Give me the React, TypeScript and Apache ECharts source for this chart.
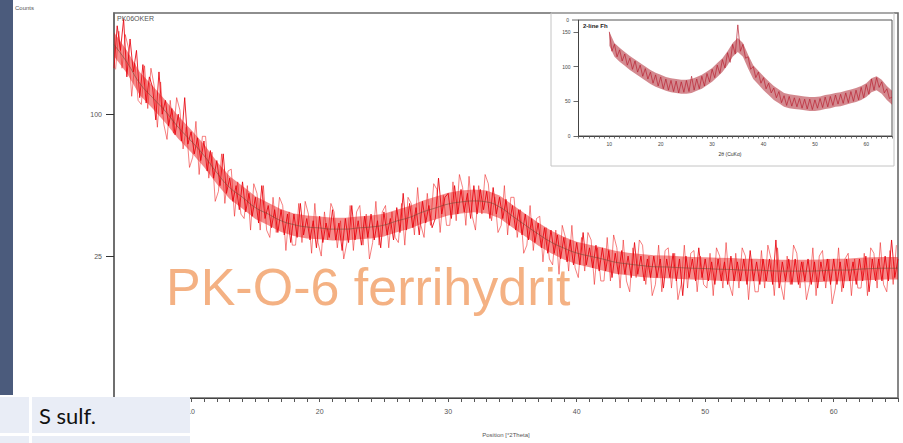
import React, { useEffect, useRef } from "react";
import * as echarts from "echarts";

// ---- Main XRD pattern (counts, sqrt scale), scan 4° .. 65° 2θ ----
// readings at 4.00, 4.25, 4.50, ...
const MAIN_START = 4;
const MAIN_STEP = 0.25;
const MAIN_COUNTS = [
  135, 172, 150, 178,
  128, 160, 132, 150,
  112, 138, 108, 128,
  120, 96, 132, 100,
  110, 92, 104, 86,
  100, 82, 112, 80,
  88, 74, 84, 70,
  82, 64, 76, 60,
  70, 56, 74, 52,
  60, 48, 56, 44,
  58, 43, 52, 41,
  50, 38, 56, 40,
  46, 36, 44, 34,
  44, 33, 42, 30,
  42, 32, 47, 33,
  40, 31, 39, 28,
  41, 30, 38, 32,
  44, 31, 38, 27,
  40, 30, 46, 31,
  39, 29, 41, 32,
  42, 31, 39, 28,
  43, 33, 40, 31,
  45, 34, 52, 35,
  47, 36, 45, 33,
  48, 38, 46, 36,
  40, 60, 42, 50,
  52, 40, 56, 42,
  54, 43, 52, 40,
  56, 42, 54, 44,
  53, 40, 55, 42,
  50, 40, 49, 37,
  46, 35, 44, 33,
  42, 31, 40, 30,
  38, 28, 36, 26,
  35, 26, 33, 24,
  32, 23, 31, 22,
  30, 22, 34, 22,
  28, 21, 29, 20,
  28, 20, 27, 18,
  26, 19, 27, 19,
  25, 18, 30, 19,
  25, 17, 24, 18,
  25, 18, 24, 15,
  24, 18, 26, 17,
  24, 13, 25, 18,
  24, 17, 28, 18,
  24, 17, 23, 16,
  24, 17, 23, 16,
  25, 17, 23, 17,
  24, 16, 27, 17,
  23, 16, 24, 17,
  24, 16, 31, 15,
  23, 17, 24, 16,
  24, 16, 23, 17,
  24, 16, 23, 15,
  23, 17, 24, 16,
  24, 16, 23, 15,
  24, 17, 23, 16,
  24, 17, 25, 14,
  24, 17, 24, 17,
  25, 17, 31, 18,
  24,
];
// readings in between, at 4.125, 4.375, 4.625, ...
const MAIN_MID_START = 4.125;
const MAIN_MID_STEP = 0.25;
const MAIN_COUNTS_MID = [
  134, 167, 135, 164,
  152, 113, 139, 110,
  107, 137, 104, 135,
  121, 91, 124, 93,
  83, 110, 87, 112,
  103, 77, 91, 66,
  72, 95, 62, 85,
  85, 60, 75, 48,
  53, 74, 47, 64,
  65, 41, 58, 42,
  40, 56, 35, 57,
  52, 35, 56, 35,
  32, 50, 34, 50,
  46, 27, 43, 29,
  29, 47, 30, 48,
  42, 26, 47, 30,
  25, 43, 31, 47,
  43, 28, 39, 24,
  30, 46, 27, 43,
  46, 29, 42, 24,
  30, 48, 29, 43,
  46, 28, 43, 32,
  30, 47, 29, 50,
  47, 33, 55, 37,
  32, 52, 37, 57,
  54, 34, 51, 37,
  37, 58, 39, 62,
  55, 37, 61, 41,
  35, 56, 42, 62,
  57, 39, 50, 34,
  37, 56, 33, 50,
  50, 32, 44, 26,
  29, 46, 27, 40,
  41, 23, 36, 24,
  22, 35, 19, 37,
  32, 20, 37, 21,
  18, 32, 20, 34,
  31, 16, 28, 17,
  17, 32, 17, 33,
  28, 15, 31, 17,
  14, 28, 18, 31,
  29, 16, 25, 13,
  16, 29, 14, 27,
  28, 15, 26, 12,
  16, 29, 15, 26,
  27, 14, 25, 16,
  15, 26, 13, 28,
  25, 15, 30, 16,
  13, 26, 15, 28,
  25, 12, 24, 14,
  14, 27, 15, 29,
  24, 13, 28, 16,
  12, 25, 16, 29,
  26, 15, 23, 12,
  16, 28, 13, 25,
  27, 15, 24, 11,
  15, 28, 14, 24,
  26, 13, 24, 15,
  15, 26, 13, 28,
  26, 15, 30, 16,
  14, 27, 16, 29,
];

// 1° grid: fitted background line and the dense core of the noise band
const BAND_START = 4;
const BAND_STEP = 1;
const MAIN_BACKGROUND = [
  155, 140, 123, 112, 102, 91, 82, 73, 63, 55, 50, 45, 42, 39, 37.3, 36.3,
  35.9, 35.4, 35.4, 35.9, 36.3, 37.1, 38.9, 40.5, 42.9, 44.8, 46.7, 47.7,
  48.2, 47.7, 45.3, 41.1, 37.1, 33.4, 30.2, 27.9, 26.1, 25, 24, 22.9, 22.3,
  21.8, 21.4, 21.3, 21.1, 20.9, 20.8, 20.6, 20.5, 20.3, 20.3, 20.1, 20, 20,
  20, 20.1, 20.3, 20.3, 20.6, 20.8, 20.9, 20.9,
];
const MAIN_BAND_LOW = [
  145, 131, 114, 104, 94, 83.5, 74.9, 66.3, 56.8, 49.2, 44.5, 39.8, 37, 34.2,
  32.6, 31.6, 31.3, 30.8, 30.8, 31.3, 31.6, 32.4, 34.1, 35.6, 37.8, 39.6, 41.4,
  42.3, 42.8, 42.3, 40.1, 36.1, 32.4, 28.9, 26, 23.8, 22.2, 21.2, 20.2, 19.2,
  18.7, 18.2, 17.9, 17.8, 17.6, 17.4, 17.3, 17.1, 17, 16.9, 16.9, 16.7, 16.6,
  16.6, 16.6, 16.7, 16.9, 16.9, 17.1, 17.3, 17.4, 17.4,
];
const MAIN_BAND_HIGH = [
  166, 150, 132, 121, 110, 98.8, 89.4, 80, 69.5, 61.1, 55.8, 50.5, 47.3, 44.2,
  42.3, 41.3, 40.9, 40.3, 40.3, 40.9, 41.3, 42.1, 44, 45.8, 48.3, 50.3, 52.3,
  53.4, 53.9, 53.4, 50.9, 46.4, 42.1, 38.2, 34.8, 32.3, 30.3, 29.2, 28.1, 26.9,
  26.2, 25.7, 25.3, 25.2, 24.9, 24.7, 24.6, 24.4, 24.3, 24.1, 24.1, 23.8, 23.7,
  23.7, 23.7, 23.8, 24.1, 24.1, 24.4, 24.6, 24.7, 24.7,
];

const MAIN_X_MIN = 4;
const MAIN_X_MAX = 65;
const MAIN_Y_MAX = 184;
const MAIN_Y_TICKS = [25, 100];
const MAIN_X_LABELS = [10, 20, 30, 40, 50, 60];

// ---- Inset: 2-line ferrihydrite reference (linear counts) ----
const INSET_START = 10;
const INSET_STEP = 0.5;
const INSET_COUNTS = [
  150, 122, 132, 114, 124, 108, 118, 102, 112, 96,
  108, 92, 102, 86, 97, 82, 92, 76, 88, 72,
  85, 68, 82, 66, 80, 64, 79, 62, 78, 63,
  80, 64, 86, 66, 82, 68, 86, 72, 90, 78,
  96, 84, 102, 90, 110, 98, 120, 106, 132, 118,
  160, 122, 132, 112, 114, 96, 100, 84, 92, 76,
  84, 68, 76, 62, 69, 55, 64, 48, 58, 44,
  57, 43, 55, 42, 54, 40, 53, 39, 53, 38,
  52, 40, 54, 41, 56, 42, 57, 44, 59, 46,
  60, 47, 62, 48, 64, 50, 66, 52, 70, 55,
  74, 60, 82, 66, 84, 70, 78, 62, 68, 54,
  56,
];
const INSET_BAND_START = 10;
const INSET_BAND_STEP = 1;
const INSET_BAND_LOW = [
  130, 114, 107, 101, 95, 90, 85, 80, 75, 71, 68, 65, 63, 62, 61, 61, 62, 65,
  68, 73, 78, 85, 92, 102, 114, 121, 114, 97, 82, 74, 66, 59, 52, 47, 42, 40,
  39, 38, 37, 36, 36, 37, 39, 40, 42, 43, 45, 47, 49, 52, 56, 63, 66, 61, 52, 45,
];
const INSET_BAND_HIGH = [
  150, 134, 127, 121, 115, 110, 105, 100, 95, 91, 88, 85, 83, 82, 81, 81, 82, 85,
  88, 93, 98, 105, 112, 122, 134, 141, 134, 117, 102, 94, 86, 79, 72, 67, 62, 60,
  59, 58, 57, 56, 56, 57, 59, 60, 62, 63, 65, 67, 69, 72, 76, 83, 86, 81, 72, 65,
];
const INSET_X_MIN = 4;
const INSET_X_MAX = 65;
const INSET_Y_MAX = 167;
const INSET_Y_TICKS = [0, 50, 100, 150];

const AXIS_FONT = "Liberation Sans, Arial, sans-serif";

// band drawn as one polygon through the axes' own coordinate mapping
function bandSeries(
  start: number,
  step: number,
  low: number[],
  high: number[],
  f: (v: number) => number,
  axis: number,
  color: string,
  opacity: number
) {
  return {
    type: "custom",
    coordinateSystem: "cartesian2d",
    xAxisIndex: axis,
    yAxisIndex: axis,
    silent: true,
    z: 2,
    data: [[start, f(low[0])]],
    renderItem: (_params: any, api: any) => {
      const pts: number[][] = [];
      low.forEach((v, i) => pts.push(api.coord([start + i * step, f(v)])));
      for (let i = high.length - 1; i >= 0; i--) pts.push(api.coord([start + i * step, f(high[i])]));
      return {
        type: "polygon",
        shape: { points: pts },
        style: { fill: color, opacity },
      };
    },
  };
}

function lineSeries(data: number[][], axis: number, color: string, width: number, opacity: number, z: number) {
  return {
    type: "line",
    xAxisIndex: axis,
    yAxisIndex: axis,
    data,
    showSymbol: false,
    symbol: "none",
    silent: true,
    lineStyle: { color, width, opacity },
    z,
  };
}

export default function App() {
  const ref = useRef<HTMLDivElement>(null);

  useEffect(() => {
    if (!ref.current) return;
    const chart = echarts.init(ref.current, undefined, { renderer: "svg" });

    const sq = (v: number) => Math.sqrt(v);
    const lin = (v: number) => v;
    const mainPts = MAIN_COUNTS.map((v, i) => [MAIN_START + i * MAIN_STEP, sq(v)]);
    const midPts = MAIN_COUNTS_MID.map((v, i) => [MAIN_MID_START + i * MAIN_MID_STEP, sq(v)]);
    const bgPts = MAIN_BACKGROUND.map((v, i) => [BAND_START + i * BAND_STEP, sq(v)]);
    const insetPts = INSET_COUNTS.map((v, i) => [INSET_START + i * INSET_STEP, v]);

    const option: any = {
      animation: false,
      backgroundColor: "#ffffff",
      grid: [
        {
          left: 114,
          top: 13,
          width: 784,
          height: 385,
          show: true,
          borderColor: "#6a6a6a",
          borderWidth: 1.6,
          backgroundColor: "transparent",
        },
        {
          left: 578.5,
          top: 20,
          width: 313.5,
          height: 116,
          show: true,
          borderColor: "#555555",
          borderWidth: 1,
          backgroundColor: "transparent",
        },
      ],
      xAxis: [
        {
          gridIndex: 0,
          type: "value",
          min: MAIN_X_MIN,
          max: MAIN_X_MAX,
          interval: 1,
          splitLine: { show: false },
          axisLine: { show: true, lineStyle: { color: "#444", width: 1.2 } },
          axisTick: { show: true, length: 4, lineStyle: { color: "#555", width: 1 } },
          axisLabel: {
            color: "#555",
            fontSize: 7,
            fontFamily: AXIS_FONT,
            margin: 10,
            formatter: (v: number) => (MAIN_X_LABELS.indexOf(v) >= 0 ? String(v) : ""),
          },
          name: "Position [°2Theta]",
          nameLocation: "middle",
          nameGap: 34,
          nameTextStyle: { color: "#555", fontSize: 6, fontFamily: AXIS_FONT },
        },
        {
          gridIndex: 1,
          type: "value",
          min: INSET_X_MIN,
          max: INSET_X_MAX,
          interval: 1,
          splitLine: { show: false },
          axisLine: { show: true, lineStyle: { color: "#444", width: 1 } },
          axisTick: { show: true, length: 2.5, lineStyle: { color: "#555", width: 0.8 } },
          axisLabel: {
            color: "#444",
            fontSize: 5,
            fontFamily: AXIS_FONT,
            margin: 5,
            formatter: (v: number) => (v % 10 === 0 ? String(v) : ""),
          },
        },
      ],
      yAxis: [
        {
          gridIndex: 0,
          type: "value",
          min: 0,
          max: Math.sqrt(MAIN_Y_MAX),
          splitLine: { show: false },
          axisLine: { show: true, lineStyle: { color: "#6a6a6a", width: 1.6 } },
          axisTick: {
            show: true,
            length: 8,
            lineStyle: { color: "#333", width: 1 },
            customValues: MAIN_Y_TICKS.map((t) => Math.sqrt(t)),
          },
          axisLabel: {
            color: "#555",
            fontSize: 7,
            fontFamily: AXIS_FONT,
            margin: 12,
            customValues: MAIN_Y_TICKS.map((t) => Math.sqrt(t)),
            formatter: (v: number) => String(Math.round(v * v)),
          },
        },
        {
          gridIndex: 1,
          type: "value",
          min: 0,
          max: INSET_Y_MAX,
          splitLine: { show: false },
          axisLine: { show: true, lineStyle: { color: "#444", width: 1 } },
          axisTick: {
            show: true,
            length: 5,
            lineStyle: { color: "#444", width: 0.8 },
            customValues: INSET_Y_TICKS,
          },
          axisLabel: {
            color: "#444",
            fontSize: 5,
            fontFamily: AXIS_FONT,
            margin: 8,
            customValues: INSET_Y_TICKS,
          },
        },
      ],
      series: [
        bandSeries(BAND_START, BAND_STEP, MAIN_BAND_LOW, MAIN_BAND_HIGH, sq, 0, "#e60000", 0.45),
        lineSeries(midPts, 0, "#ee1c1c", 0.8, 0.7, 3),
        lineSeries(mainPts, 0, "#e8000c", 1, 0.85, 3),
        {
          ...lineSeries(bgPts, 0, "#6e4a34", 0.8, 0.7, 4),
          smooth: true,
        },
        bandSeries(INSET_BAND_START, INSET_BAND_STEP, INSET_BAND_LOW, INSET_BAND_HIGH, lin, 1, "#a8141f", 0.5),
        lineSeries(insetPts, 1, "#b81e2e", 0.9, 0.75, 3),
      ],
      graphic: [
        {
          type: "rect",
          shape: { x: 0, y: 0, width: 13, height: 395 },
          style: { fill: "#4b5b7c" },
          z: 50,
        },
        {
          type: "text",
          x: 15,
          y: 8,
          style: { text: "Counts", fill: "#555", font: `6px ${AXIS_FONT}`, verticalAlign: "middle" },
          z: 50,
        },
        {
          type: "text",
          x: 117,
          y: 18,
          style: { text: "PK06OKER", fill: "#555", font: `7px ${AXIS_FONT}`, verticalAlign: "middle" },
          z: 50,
        },
        {
          type: "rect",
          shape: { x: 551, y: 13, width: 343, height: 153 },
          style: { fill: "none", stroke: "#c4c4c4", lineWidth: 1 },
          z: 40,
        },
        {
          type: "text",
          x: 583,
          y: 26,
          style: { text: "2-line Fh", fill: "#222", font: `bold 6px ${AXIS_FONT}`, verticalAlign: "middle" },
          z: 50,
        },
        {
          type: "text",
          x: 569,
          y: 20,
          style: { text: "0", fill: "#444", font: `5px ${AXIS_FONT}`, verticalAlign: "middle", align: "right" },
          z: 50,
        },
        {
          type: "line",
          shape: { x1: 572, y1: 20, x2: 578, y2: 20 },
          style: { stroke: "#444", lineWidth: 0.8 },
          z: 50,
        },
        {
          type: "text",
          x: 730,
          y: 154,
          style: { text: "2θ (CuKα)", fill: "#333", font: `5px ${AXIS_FONT}`, verticalAlign: "middle", align: "center" },
          z: 50,
        },
        {
          type: "text",
          x: 166,
          y: 287,
          style: {
            text: "PK-O-6 ferrihydrit",
            fill: "#F4B183",
            font: `52px ${AXIS_FONT}`,
            verticalAlign: "middle",
          },
          z: 60,
        },
        {
          type: "group",
          z: 100,
          children: [
            { type: "rect", shape: { x: 0, y: 397, width: 29, height: 36 }, style: { fill: "#e9edf6" }, z: 100 },
            { type: "rect", shape: { x: 32, y: 397, width: 158, height: 36 }, style: { fill: "#e9edf6" }, z: 100 },
            { type: "rect", shape: { x: 0, y: 436, width: 29, height: 10 }, style: { fill: "#e9edf6" }, z: 100 },
            { type: "rect", shape: { x: 32, y: 436, width: 158, height: 10 }, style: { fill: "#e9edf6" }, z: 100 },
            {
              type: "text",
              x: 39,
              y: 415,
              style: {
                text: "S sulf.",
                fill: "#111",
                font: "22px Lato, 'Open Sans', sans-serif",
                verticalAlign: "middle",
              },
              z: 101,
            },
          ],
        },
      ],
    };

    chart.setOption(option);
    return () => chart.dispose();
  }, []);

  return (
    <div
      ref={ref}
      style={{ position: "absolute", left: 0, top: 0, width: 903, height: 443, background: "#fff" }}
    />
  );
}
